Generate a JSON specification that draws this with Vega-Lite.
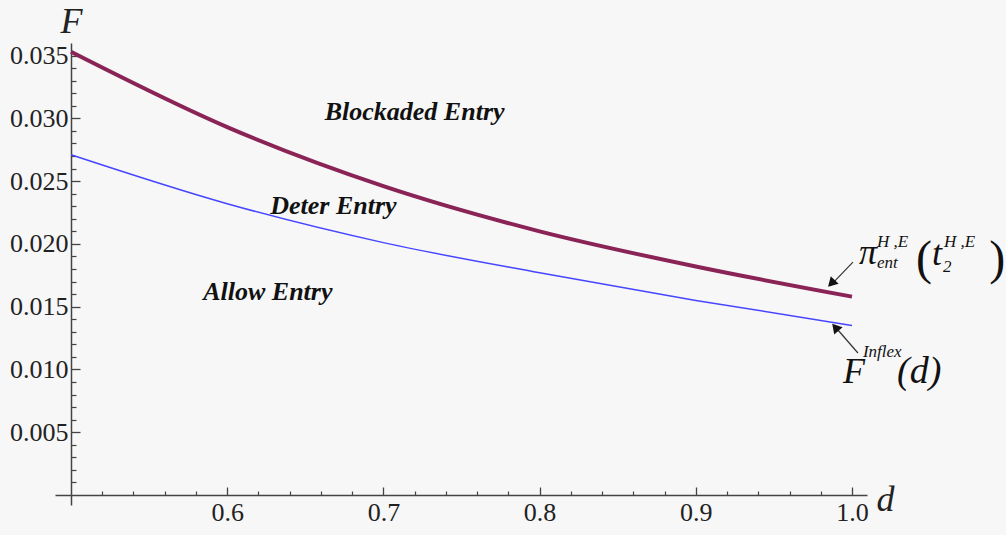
{
  "$schema": "https://vega.github.io/schema/vega-lite/v6.json",
  "width": 812,
  "height": 462,
  "autosize": {"type": "none"},
  "padding": {"left": 55, "top": 43, "right": 139, "bottom": 30},
  "background": "#f7f7f7",
  "config": {"view": {"stroke": null}},
  "datasets": {
    "curves": [
      {"d": 0.5, "F": 0.0353, "series": "pi"},
      {"d": 0.6, "F": 0.0293, "series": "pi"},
      {"d": 0.7, "F": 0.0246, "series": "pi"},
      {"d": 0.8, "F": 0.0210, "series": "pi"},
      {"d": 0.9, "F": 0.0182, "series": "pi"},
      {"d": 1.0, "F": 0.0158, "series": "pi"},
      {"d": 0.5, "F": 0.0271, "series": "inflex"},
      {"d": 0.6, "F": 0.0232, "series": "inflex"},
      {"d": 0.7, "F": 0.0201, "series": "inflex"},
      {"d": 0.8, "F": 0.0177, "series": "inflex"},
      {"d": 0.9, "F": 0.0155, "series": "inflex"},
      {"d": 1.0, "F": 0.0135, "series": "inflex"}
    ],
    "regions": [
      {"d": 0.72, "F": 0.0305, "text": "Blockaded Entry"},
      {"d": 0.668, "F": 0.0230, "text": "Deter Entry"},
      {"d": 0.626, "F": 0.0162, "text": "Allow Entry"}
    ],
    "arrows": [
      {"d": 1.0006, "F": 0.01855, "d2": 0.9860, "F2": 0.01665, "hd": 0.9868, "hF": 0.01685, "which": "pi"},
      {"d": 1.0038, "F": 0.01131, "d2": 0.9885, "F2": 0.01350, "hd": 0.9893, "hF": 0.01335, "which": "inflex"}
    ],
    "bigItalic": [
      {"d": 1.0102, "F": 0.01839, "text": "π"},
      {"d": 1.0544, "F": 0.01831, "text": "t"},
      {"d": 1.0013, "F": 0.00892, "text": "F"}
    ],
    "parens": [
      {"d": 1.0461, "F": 0.01760, "text": "("},
      {"d": 1.0930, "F": 0.01760, "text": ")"}
    ],
    "small": [
      {"d": 1.0160, "F": 0.01975, "text": "H ,E"},
      {"d": 1.0160, "F": 0.01807, "text": "ent"},
      {"d": 1.0589, "F": 0.01975, "text": "H ,E"},
      {"d": 1.0582, "F": 0.01775, "text": "2"},
      {"d": 1.0070, "F": 0.01099, "text": "Inflex"}
    ],
    "dlabel": [
      {"d": 1.0288, "F": 0.00892, "text": "(d)"}
    ]
  },
  "resolve": {"axis": {"x": "independent", "y": "independent"}},
  "layer": [
    {
      "data": {"name": "curves"},
      "transform": [{"filter": "datum.series == 'pi'"}],
      "mark": {"type": "line", "color": "#8a2457", "strokeWidth": 4, "interpolate": "monotone", "clip": false},
      "encoding": {
        "x": {"field": "d", "type": "quantitative",
          "scale": {"domain": [0.48976, 1.0096], "nice": false, "zero": false},
          "axis": {"orient": "bottom", "offset": -10, "values": [0.6, 0.7, 0.8, 0.9, 1.0], "format": ".1f",
            "tickSize": -8, "tickWidth": 1.3, "tickColor": "#444", "domainColor": "#444", "domainWidth": 1.5,
            "labelFont": "Liberation Serif", "labelFontSize": 26, "labelColor": "#222", "labelPadding": 12,
            "grid": false, "title": "d", "titleFont": "Liberation Serif", "titleFontStyle": "italic", "titleFontWeight": "normal",
            "titleFontSize": 36, "titleColor": "#222", "titleX": 830, "titleY": 15, "titleAlign": "center", "titleBaseline": "alphabetic", "titleAngle": 0}
        },
        "y": {"field": "F", "type": "quantitative",
          "scale": {"domain": [-0.000796, 0.036], "nice": false, "zero": false},
          "axis": {"orient": "left", "offset": -16, "values": [0.005, 0.01, 0.015, 0.02, 0.025, 0.03, 0.035], "format": ".3f",
            "tickSize": -9, "tickWidth": 1.3, "tickColor": "#444", "domainColor": "#444", "domainWidth": 1.5,
            "labelFont": "Liberation Serif", "labelFontSize": 26, "labelColor": "#222", "labelPadding": 12,
            "grid": false, "title": "F", "titleFont": "Liberation Serif", "titleFontStyle": "italic", "titleFontWeight": "normal",
            "titleFontSize": 36, "titleColor": "#222", "titleX": 0, "titleY": -11, "titleAlign": "center", "titleBaseline": "alphabetic", "titleAngle": 0}
        }
      }
    },
    {
      "data": {"name": "curves"},
      "transform": [{"filter": "datum.series == 'inflex'"}],
      "mark": {"type": "line", "color": "#4646ff", "strokeWidth": 1.5, "interpolate": "monotone", "clip": false},
      "encoding": {
        "x": {"field": "d", "type": "quantitative",
          "axis": {"orient": "bottom", "offset": -10, "values": [0.52, 0.54, 0.56, 0.58, 0.62, 0.64, 0.66, 0.68, 0.72, 0.74, 0.76, 0.78, 0.82, 0.84, 0.86, 0.88, 0.92, 0.94, 0.96, 0.98],
            "tickSize": -4, "tickWidth": 1.2, "tickColor": "#444", "domain": false, "labels": false, "grid": false, "title": null}
        },
        "y": {"field": "F", "type": "quantitative",
          "axis": {"orient": "left", "offset": -16, "values": [0.001, 0.002, 0.003, 0.004, 0.006, 0.007, 0.008, 0.009, 0.011, 0.012, 0.013, 0.014, 0.016, 0.017, 0.018, 0.019, 0.021, 0.022, 0.023, 0.024, 0.026, 0.027, 0.028, 0.029, 0.031, 0.032, 0.033, 0.034],
            "tickSize": -5, "tickWidth": 1.2, "tickColor": "#444", "domain": false, "labels": false, "grid": false, "title": null}
        }
      }
    },
    {
      "data": {"name": "regions"},
      "mark": {"type": "text", "font": "Liberation Serif", "fontStyle": "italic", "fontWeight": "bold", "fontSize": 26, "color": "#111", "align": "center", "baseline": "middle"},
      "encoding": {
        "x": {"field": "d", "type": "quantitative", "axis": null},
        "y": {"field": "F", "type": "quantitative", "axis": null},
        "text": {"field": "text"}
      }
    },
    {
      "data": {"name": "arrows"},
      "mark": {"type": "rule", "color": "#333", "strokeWidth": 1.2, "clip": false},
      "encoding": {
        "x": {"field": "d", "type": "quantitative", "axis": null},
        "y": {"field": "F", "type": "quantitative", "axis": null},
        "x2": {"field": "d2"},
        "y2": {"field": "F2"}
      }
    },
    {
      "data": {"name": "arrows"},
      "transform": [{"filter": "datum.which == 'pi'"}],
      "mark": {"type": "point", "shape": "triangle-up", "filled": true, "color": "#111", "opacity": 1, "size": 120, "angle": 224, "clip": false},
      "encoding": {
        "x": {"field": "hd", "type": "quantitative", "axis": null},
        "y": {"field": "hF", "type": "quantitative", "axis": null}
      }
    },
    {
      "data": {"name": "arrows"},
      "transform": [{"filter": "datum.which == 'inflex'"}],
      "mark": {"type": "point", "shape": "triangle-up", "filled": true, "color": "#111", "opacity": 1, "size": 120, "angle": 319, "clip": false},
      "encoding": {
        "x": {"field": "hd", "type": "quantitative", "axis": null},
        "y": {"field": "hF", "type": "quantitative", "axis": null}
      }
    },
    {
      "data": {"name": "bigItalic"},
      "mark": {"type": "text", "font": "Liberation Serif", "fontStyle": "italic", "fontSize": 36, "color": "#111", "align": "center", "baseline": "alphabetic", "clip": false},
      "encoding": {
        "x": {"field": "d", "type": "quantitative", "axis": null},
        "y": {"field": "F", "type": "quantitative", "axis": null},
        "text": {"field": "text"}
      }
    },
    {
      "data": {"name": "parens"},
      "mark": {"type": "text", "font": "Liberation Serif", "fontSize": 48, "color": "#111", "align": "center", "baseline": "alphabetic", "clip": false},
      "encoding": {
        "x": {"field": "d", "type": "quantitative", "axis": null},
        "y": {"field": "F", "type": "quantitative", "axis": null},
        "text": {"field": "text"}
      }
    },
    {
      "data": {"name": "small"},
      "mark": {"type": "text", "font": "Liberation Serif", "fontStyle": "italic", "fontSize": 17, "color": "#111", "align": "left", "baseline": "alphabetic", "clip": false},
      "encoding": {
        "x": {"field": "d", "type": "quantitative", "axis": null},
        "y": {"field": "F", "type": "quantitative", "axis": null},
        "text": {"field": "text"}
      }
    },
    {
      "data": {"name": "dlabel"},
      "mark": {"type": "text", "font": "Liberation Serif", "fontStyle": "italic", "fontSize": 38, "color": "#111", "align": "left", "baseline": "alphabetic", "clip": false},
      "encoding": {
        "x": {"field": "d", "type": "quantitative", "axis": null},
        "y": {"field": "F", "type": "quantitative", "axis": null},
        "text": {"field": "text"}
      }
    }
  ]
}
